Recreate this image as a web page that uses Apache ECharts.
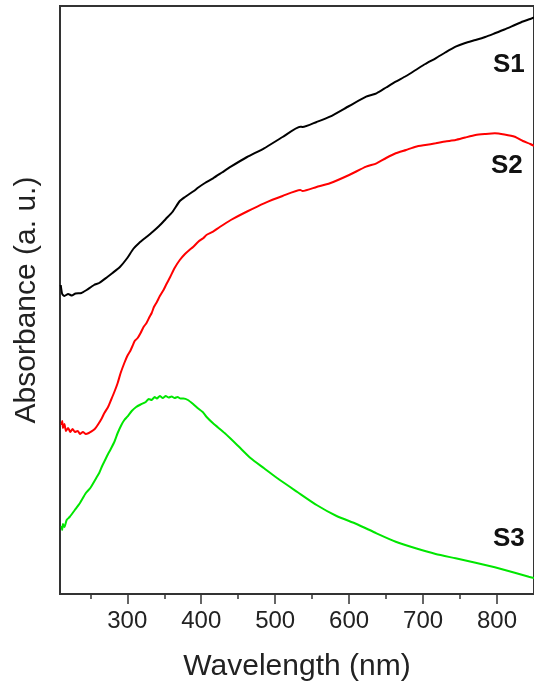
<!DOCTYPE html>
<html>
<head>
<meta charset="utf-8">
<script src="https://cdn.jsdelivr.net/npm/echarts@6/dist/echarts.min.js"></script>
<style>
html,body{margin:0;padding:0;background:#fff;}
#chart{width:534px;height:692px;}
</style>
</head>
<body>
<div id="chart"></div>
<script>
// Wavelength ticks (nm)
const tickLabels = [300, 400, 500, 600, 700, 800];

// S1 (black)
const s1Wl  = [210,212,215,220,225,230,238,245,255,262,273,280,290,300,308,316,325,334,343,352,361,371,378,390,396,405,416,428,440,462,485,510,534,537,556,574,600,623,637,650,663,677,690,703,717,730,744,757,771,784,797,810,824,835,845,850];
const s1Abs = [3.09,3.00,2.98,3.00,2.985,3.005,3.01,3.04,3.09,3.11,3.17,3.21,3.27,3.36,3.45,3.51,3.565,3.62,3.68,3.75,3.82,3.93,3.97,4.03,4.065,4.11,4.157,4.215,4.273,4.37,4.457,4.57,4.673,4.67,4.72,4.773,4.88,4.973,5.007,5.065,5.123,5.18,5.24,5.30,5.357,5.415,5.473,5.51,5.54,5.57,5.607,5.645,5.69,5.725,5.75,5.765];

// S2 (red)
const s2Wl  = [211,212,213,215,217,220,223,226,229,233,236,240,244,248,251,256,260,265,269,274,278,283,287,291,296,300,304,307,310,314,318,322,326,330,333,336,340,344,349,353,358,364,371,378,384,389,396,403,407,416,425,440,462,485,510,534,537,556,574,600,623,637,650,663,677,690,703,717,730,744,757,771,784,797,810,824,835,845,850];
const s2Abs = [1.69,1.73,1.66,1.70,1.63,1.66,1.62,1.65,1.62,1.63,1.60,1.62,1.60,1.61,1.623,1.65,1.69,1.75,1.81,1.87,1.94,2.03,2.11,2.21,2.31,2.38,2.43,2.48,2.53,2.56,2.61,2.67,2.71,2.77,2.81,2.87,2.92,2.98,3.04,3.10,3.17,3.26,3.34,3.40,3.44,3.47,3.523,3.56,3.59,3.623,3.67,3.74,3.825,3.907,3.98,4.04,4.03,4.07,4.107,4.19,4.273,4.307,4.36,4.407,4.44,4.473,4.49,4.507,4.525,4.54,4.565,4.59,4.60,4.607,4.595,4.573,4.53,4.50,4.48];

// S3 (green)
const s3Wl  = [211,212,213,215,218,222,229,236,244,250,258,262,266,270,274,277,283,287,292,296,300,306,312,318,325,329,333,337,340,344,348,352,356,360,364,368,372,376,382,389,395,402,407,416,432,450,467,485,503,530,556,583,610,637,663,690,717,744,771,797,824,843,850];
const s3Abs = [0.68,0.64,0.70,0.67,0.74,0.77,0.84,0.91,1.01,1.06,1.16,1.21,1.28,1.34,1.40,1.44,1.53,1.61,1.69,1.74,1.773,1.83,1.87,1.895,1.92,1.95,1.94,1.97,1.955,1.98,1.96,1.98,1.965,1.975,1.96,1.97,1.955,1.955,1.94,1.90,1.86,1.82,1.773,1.707,1.607,1.48,1.357,1.257,1.157,1.02,0.89,0.78,0.70,0.607,0.523,0.457,0.40,0.357,0.313,0.267,0.213,0.173,0.16];

const seriesNames = ['S1', 'S2', 'S3'];
const seriesColors = ['#000000', '#ff0000', '#00e600'];

function pairs(xs, ys) { return xs.map((x, i) => [x, ys[i]]); }

const font = 'Liberation Sans, Arial, sans-serif';
const chart = echarts.init(document.getElementById('chart'), null, {renderer: 'canvas'});
const seriesData = [pairs(s1Wl, s1Abs), pairs(s2Wl, s2Abs), pairs(s3Wl, s3Abs)];

chart.setOption({
  animation: false,
  backgroundColor: '#fff',
  grid: {left: 60, top: 6, width: 479, height: 588, show: true, borderColor: '#333', borderWidth: 2, containLabel: false},
  xAxis: {
    type: 'value', min: 209, max: 850, splitNumber: 6,
    name: 'Wavelength (nm)', nameLocation: 'middle', nameGap: 58,
    nameTextStyle: {fontSize: 30, color: '#222', fontFamily: font},
    axisLine: {show: true, lineStyle: {color: '#333', width: 2}},
    axisTick: {show: true, inside: false, length: 10, customValues: tickLabels, lineStyle: {color: '#333', width: 1.5}},
    minorTick: {show: true, splitNumber: 2, length: 5, lineStyle: {color: '#333', width: 1.5}},
    axisLabel: {show: true, customValues: tickLabels, fontSize: 24, color: '#222', fontFamily: font, margin: 15},
    splitLine: {show: false}, minorSplitLine: {show: false}
  },
  yAxis: {
    type: 'value', min: 0, max: 5.88,
    name: 'Absorbance (a. u.)', nameLocation: 'middle', nameGap: 18,
    nameTextStyle: {fontSize: 30, color: '#222', fontFamily: font},
    axisLine: {show: true, lineStyle: {color: '#333', width: 2}},
    axisTick: {show: false}, axisLabel: {show: false}, splitLine: {show: false}
  },
  graphic: [
    {type: 'text', left: 493, top: 52, style: {text: 'S1', font: 'bold 26px ' + font, fill: '#111'}},
    {type: 'text', left: 491, top: 153, style: {text: 'S2', font: 'bold 26px ' + font, fill: '#111'}},
    {type: 'text', left: 493, top: 526, style: {text: 'S3', font: 'bold 26px ' + font, fill: '#111'}}
  ],
  series: seriesNames.map((n, i) => ({
    name: n, type: 'line', data: seriesData[i], showSymbol: false, symbol: 'none',
    smooth: 0.2, lineStyle: {color: seriesColors[i], width: 2}, clip: true
  }))
});
</script>
</body>
</html>
